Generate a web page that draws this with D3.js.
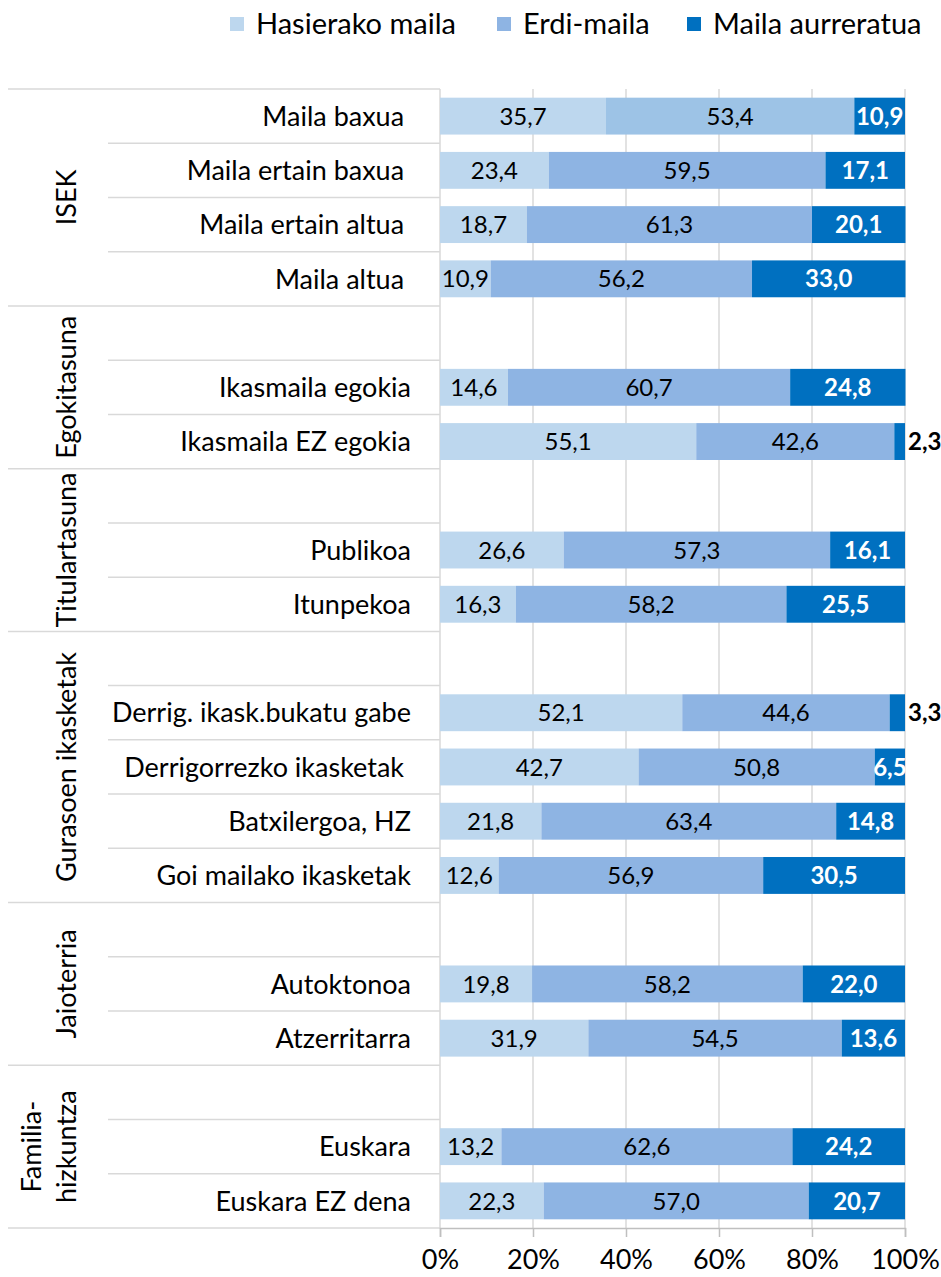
<!DOCTYPE html>
<meta charset='utf-8'>
<style>
html, body {
  margin: 0;
  padding: 0;
  background: #fff;
}
svg text {
  font-family: Lato, 'Open Sans', sans-serif;
  fill: #000;
}
</style>
<body>
<div id='container'></div>
<script src='https://d3js.org/d3.v7.min.js'></script>
<script>

// data (blank rows are the spacer row on top of each group)
var categories = ['Maila baxua ', 'Maila ertain baxua ', 'Maila ertain altua ', 'Maila altua ',
  '', 'Ikasmaila egokia', 'Ikasmaila EZ egokia',
  '', 'Publikoa', 'Itunpekoa',
  '', 'Derrig. ikask.bukatu gabe', 'Derrigorrezko ikasketak ', 'Batxilergoa, HZ', 'Goi mailako ikasketak',
  '', 'Autoktonoa', 'Atzerritarra',
  '', 'Euskara', 'Euskara EZ dena'];
var hasierako = [35.7, 23.4, 18.7, 10.9, null, 14.6, 55.1, null, 26.6, 16.3, null, 52.1, 42.7, 21.8, 12.6, null, 19.8, 31.9, null, 13.2, 22.3];
var erdi      = [53.4, 59.5, 61.3, 56.2, null, 60.7, 42.6, null, 57.3, 58.2, null, 44.6, 50.8, 63.4, 56.9, null, 58.2, 54.5, null, 62.6, 57.0];
var aurrera   = [10.9, 17.1, 20.1, 33.0, null, 24.8, 2.3, null, 16.1, 25.5, null, 3.3, 6.5, 14.8, 30.5, null, 22.0, 13.6, null, 24.2, 20.7];
var groups = [['ISEK'], ['Egokitasuna'], ['Titulartasuna'], ['Gurasoen ikasketak'], ['Jaioterria'], ['Familia-', 'hizkuntza']];
var groupSizes = [4, 3, 3, 5, 3, 3];
var seriesNames = ['Hasierako maila', 'Erdi-maila', 'Maila aurreratua'];
var ticks = [0, 20, 40, 60, 80, 100];

var colors = ['#bdd7ee', '#8eb4e3', '#0070c0'];

var W = 941, H = 1277;
var svg = d3.select('#container').append('svg')
    .attr('width', W)
    .attr('height', H);

var x = d3.scaleLinear().domain([0, 100]).range([440, 905]);
var y = d3.scaleBand().domain(d3.range(categories.length)).range([89, 1228])
    .paddingInner(0.32).paddingOuter(0.16);
var step = y.step();
function rowTop(i) { return 89 + i * step; }

// gridlines
svg.append('g').selectAll('line').data(ticks).enter().append('line')
  .attr('x1', function(d) { return x(d); })
  .attr('x2', function(d) { return x(d); })
  .attr('y1', 89).attr('y2', 1228)
  .attr('stroke', '#d9d9d9').attr('stroke-width', 1.5);

// category separators on the left
var starts = [], s = 0;
groupSizes.forEach(function(n) { starts.push(s); s += n; });
var lines = svg.append('g').attr('stroke', '#d9d9d9').attr('stroke-width', 1.5);
starts.concat([categories.length]).forEach(function(st) {
  lines.append('line').attr('x1', 8).attr('x2', 440)
    .attr('y1', rowTop(st)).attr('y2', rowTop(st));
});
groupSizes.forEach(function(n, gi) {
  for (var j = 1; j < n; j++) {
    var yy = rowTop(starts[gi] + j);
    lines.append('line').attr('x1', 108).attr('x2', 440).attr('y1', yy).attr('y2', yy);
  }
});

// stacked bars
var rows = categories.map(function(c, i) {
  return {i: i, vals: [hasierako[i], erdi[i], aurrera[i]]};
}).filter(function(r) { return r.vals[0] != null; });

var bars = svg.append('g');
rows.forEach(function(r) {
  var acc = 0;
  r.vals.forEach(function(v, k) {
    var c = colors[k];
    if (k == 1 && r.i == 0) c = '#9dc3e6';
    bars.append('rect')
      .attr('x', x(acc))
      .attr('y', y(r.i))
      .attr('width', x(acc + v) - x(acc))
      .attr('height', y.bandwidth())
      .attr('fill', c);
    var lbl = bars.append('text')
      .attr('y', y(r.i) + y.bandwidth() / 2)
      .attr('dy', '0.36em')
      .style('font-size', '24px')
      .text(d3.format('.1f')(v).replace('.', ','));
    if (k == 2) {
      lbl.style('font-weight', 'bold');
      if (v < 5) {
        lbl.attr('x', x(100) + 3).attr('text-anchor', 'start');
      } else {
        lbl.attr('x', x(acc + v / 2)).attr('text-anchor', 'middle').style('fill', '#fff');
      }
    } else {
      lbl.attr('x', x(acc + v / 2)).attr('text-anchor', 'middle');
    }
    acc += v;
  });
});

// category labels
svg.append('g').selectAll('text').data(categories).enter().append('text')
  .attr('x', 411)
  .attr('y', function(d, i) { return y(i) + y.bandwidth() / 2; })
  .attr('dy', '0.36em')
  .attr('text-anchor', 'end')
  .style('font-size', '27px')
  .style('white-space', 'pre')
  .text(function(d) { return d; });

// group labels, rotated; the last line sits where a one-line label would
groups.forEach(function(g, gi) {
  var cy = (rowTop(starts[gi]) + rowTop(starts[gi] + groupSizes[gi])) / 2;
  var t = svg.append('text')
    .attr('transform', 'translate(66,' + cy + ') rotate(-90)')
    .attr('text-anchor', 'middle')
    .style('font-size', '27px');
  g.forEach(function(line, li) {
    t.append('tspan').attr('x', 0)
      .attr('y', (li - (g.length - 1)) * 35)
      .attr('dy', '0.36em')
      .text(line);
  });
});

// x axis
var axis = svg.append('g')
  .attr('transform', 'translate(0,1228)')
  .call(d3.axisBottom(x).tickValues(ticks).tickSize(9).tickPadding(13).tickFormat(function(d) { return d + '%'; }));
axis.select('.domain').attr('stroke', '#bfbfbf').attr('stroke-width', 1.5);
axis.selectAll('line').attr('stroke', '#bfbfbf').attr('stroke-width', 1.5);
axis.selectAll('text').style('font-size', '27px').style('fill', '#000')
  .style('font-family', 'Lato, sans-serif');

// legend
var legX = [230, 497, 687];
var leg = svg.append('g');
seriesNames.forEach(function(n, k) {
  leg.append('rect').attr('x', legX[k]).attr('y', 17).attr('width', 14).attr('height', 14).attr('fill', colors[k]);
  leg.append('text').attr('x', legX[k] + 26).attr('y', 24).attr('dy', '0.36em')
    .style('font-size', '29px').text(n);
});

</script>
</body>
